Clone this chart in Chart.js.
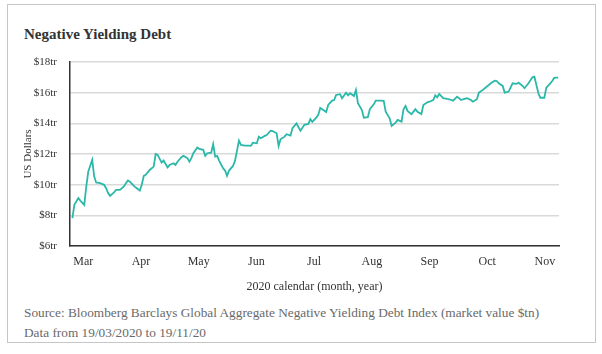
<!DOCTYPE html>
<html>
<head>
<meta charset="utf-8">
<script src="https://cdn.jsdelivr.net/npm/chart.js@4.4.1/dist/chart.umd.min.js"></script>
<style>
  html, body { margin: 0; padding: 0; background: #fff; }
  body { width: 602px; height: 354px; position: relative; overflow: hidden; }
  .frame {
    position: absolute; left: 7px; top: 4px; width: 589px; height: 339px;
    border: 1px solid #c6c6c6; box-sizing: border-box;
  }
  .title {
    position: absolute; left: 24px; top: 26px;
    font-family: 'Liberation Serif', serif; font-weight: bold; font-size: 15px;
    color: #333;
  }
  .chart-wrap { position: absolute; left: 0; top: 0; width: 602px; height: 300px; }
  .source {
    position: absolute; left: 24px; top: 303px;
    font-family: 'Liberation Serif', serif; font-size: 13.3px; line-height: 20px;
    color: #6a6a6a;
  }
</style>
</head>
<body>
<div class="frame"></div>
<div class="title">Negative Yielding Debt</div>
<div class="chart-wrap"><canvas id="chartDebt" width="602" height="300"></canvas></div>
<div class="source">Source: Bloomberg Barclays Global Aggregate Negative Yielding Debt Index (market value $tn)<br>Data from 19/03/2020 to 19/11/20</div>

<script>
// ── DATA (days since 19/03/2020, value in $tn) ─────────────────────
const DAYS = [
  0, 1, 3, 4, 6, 7, 8, 10, 11, 12, 14, 16, 17, 18, 19, 21, 22, 24, 26, 27,
  28, 29, 31, 32, 34, 35, 36, 37, 39, 41, 42, 43, 45, 46, 48, 49, 51, 52, 53, 55,
  56, 58, 59, 60, 61, 63, 64, 66, 67, 68, 70, 71, 72, 73, 74, 76, 77, 78, 79, 81,
  82, 84, 85, 87, 89, 90, 91, 93, 94, 95, 97, 98, 100, 101, 103, 104, 105, 107, 108, 110,
  111, 113, 115, 117, 119, 120, 121, 123, 124, 125, 126, 128, 129, 131, 132, 133, 135, 136, 138, 139,
  140, 142, 143, 144, 146, 147, 149, 150, 152, 153, 155, 157, 158, 160, 161, 163, 164, 166, 167, 168,
  169, 171, 172, 173, 174, 176, 177, 179, 180, 182, 183, 184, 185, 187, 189, 190, 192, 194, 196, 197,
  199, 201, 202, 204, 205, 207, 208, 210, 211, 213, 214, 215, 217, 218, 220, 222, 224, 225, 227, 228,
  230, 232, 233, 235, 236, 238, 239, 241, 242, 243, 244, 245
];
const DEBT = [
  7.82, 8.68, 9.12, 8.96, 8.68, 9.88, 10.85, 11.62, 10.53, 10.14, 10.10, 9.99, 9.77, 9.45, 9.27, 9.49, 9.66, 9.66, 9.88, 10.10,
  10.27, 10.20, 9.92, 9.81, 9.62, 9.99, 10.57, 10.64, 10.96, 11.18, 12.00, 11.94, 11.44, 11.57, 11.12, 11.29, 11.40, 11.29, 11.50, 11.79,
  11.88, 11.73, 11.50, 11.73, 12.05, 12.42, 12.33, 12.27, 11.88, 12.05, 12.09, 12.64, 11.83, 11.88, 11.57, 11.07, 10.92, 10.57, 10.92, 11.22,
  11.55, 12.87, 12.59, 12.55, 12.55, 12.53, 12.74, 12.70, 13.13, 13.03, 13.18, 13.24, 13.52, 13.50, 13.35, 12.53, 12.96, 13.13, 13.29, 13.20,
  13.68, 14.00, 13.52, 13.90, 13.96, 14.27, 14.09, 14.37, 14.55, 15.00, 14.92, 14.74, 15.20, 15.48, 15.52, 15.85, 15.90, 15.64, 16.00, 15.83,
  15.96, 15.78, 16.18, 15.31, 14.87, 14.37, 14.40, 14.92, 15.24, 15.48, 15.48, 15.46, 14.76, 14.33, 13.83, 14.05, 14.22, 14.11, 14.92, 15.13,
  14.81, 14.59, 14.76, 14.92, 14.76, 14.61, 15.20, 15.37, 15.41, 15.52, 15.83, 15.70, 15.92, 15.64, 15.59, 15.57, 15.48, 15.74, 15.52, 15.57,
  15.64, 15.52, 15.41, 15.57, 16.00, 16.18, 16.29, 16.50, 16.61, 16.78, 16.76, 16.61, 16.44, 16.00, 16.07, 16.61, 16.57, 16.65, 16.44, 16.29,
  16.61, 17.00, 17.04, 15.96, 15.67, 15.67, 16.33, 16.61, 16.76, 16.96, 16.98, 16.98
];
const MONTH_LABELS = ['Mar', 'Apr', 'May', 'Jun', 'Jul', 'Aug', 'Sep', 'Oct', 'Nov'];
const MONTH_DAYS   = [5.5, 34.6, 63.7, 92.8, 121.9, 151, 180.1, 209.2, 238.3];
const Y_TICKS      = [6, 8, 10, 12, 14, 16, 18];

const SERIF = "'Liberation Serif', serif";
const TEAL  = '#2bb8a9';

new Chart(document.getElementById('chartDebt'), {
  type: 'line',
  data: {
    datasets: [{
      data: DAYS.map((d, i) => ({ x: d, y: DEBT[i] })),
      borderColor: TEAL,
      borderWidth: 1.8,
      pointRadius: 0,
      tension: 0,
      fill: false
    }]
  },
  options: {
    responsive: false,
    animation: false,
    layout: { padding: { left: 0, right: 43, top: 62, bottom: 0 } },
    plugins: { legend: { display: false }, tooltip: { enabled: false } },
    scales: {
      x: {
        type: 'linear',
        min: -1.2,
        max: 245.4,
        afterBuildTicks(axis) { axis.ticks = MONTH_DAYS.map(v => ({ value: v })); },
        afterFit(axis) { axis.height = 54; },
        grid: { display: false, drawTicks: false },
        border: { display: true, color: '#333', width: 1.5 },
        ticks: {
          autoSkip: false, maxRotation: 0, padding: 9,
          color: '#333', font: { family: SERIF, size: 12 },
          callback(v) { const i = MONTH_DAYS.indexOf(v); return i >= 0 ? MONTH_LABELS[i] : ''; }
        },
        title: {
          display: true, text: '2020 calendar (month, year)',
          color: '#333', font: { family: SERIF, size: 12 },
          padding: { top: 0, bottom: 6 }
        }
      },
      y: {
        min: 6,
        max: 18,
        afterBuildTicks(axis) { axis.ticks = Y_TICKS.map(v => ({ value: v })); },
        afterFit(axis) { axis.width = 70; },
        grid: { color: '#d9d9d9', lineWidth: 1.5, drawTicks: false },
        border: { display: true, color: '#333', width: 1.5 },
        ticks: {
          padding: 13, color: '#333', font: { family: SERIF, size: 11 },
          callback: v => '$' + v + 'tr'
        },
        title: {
          display: true, text: 'US Dollars',
          color: '#333', font: { family: SERIF, size: 11 },
          padding: { top: 22, bottom: 0 }
        }
      }
    }
  }
});
</script>
</body>
</html>
